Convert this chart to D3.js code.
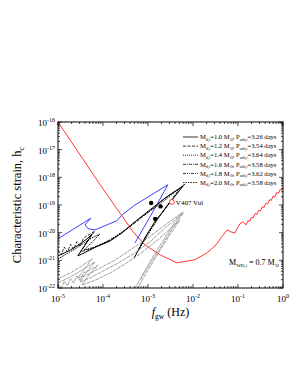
<!DOCTYPE html>
<html lang="en">
<head>
<meta charset="UTF-8">
<script src="https://cdnjs.cloudflare.com/ajax/libs/d3/7.8.5/d3.min.js"></script>
<title>hc vs fgw</title>
<style>
  body{margin:0;background:#fff;}
  text{font-family:"Liberation Serif","Times New Roman",serif;fill:#000;}
</style>
</head>
<body>
<svg id="svg"></svg>
<script>
const width=298, height=385;
const margin={top:122, right:15, bottom:97, left:58};

// tick exponents
const xExps=[-5,-4,-3,-2,-1,0];
const yExps=[-16,-17,-18,-19,-20,-21,-22];

// all curves as [log10 f(Hz), log10 hc]
const lisa=[[-5,-16],[-4,-18.42],[-3.33,-19.97],[-3.07,-20.44],
  [-2.73,-20.8],[-2.36,-21.09],[-1.96,-20.98],[-1.69,-20.73],[-1.51,-20.48],[-1.36,-20.15],
  [-1.24,-19.9],[-1.16,-19.97],[-1.07,-20.01],[-0.96,-19.68],[-0.89,-19.61],[-0.82,-19.72],
  [-0.78,-19.57],[-0.74,-19.59],[-0.70,-19.44],[-0.66,-19.47],[-0.62,-19.31],[-0.58,-19.34],
  [-0.54,-19.19],[-0.50,-19.21],[-0.46,-19.06],[-0.42,-19.09],[-0.38,-18.93],[-0.34,-18.96],
  [-0.30,-18.81],[-0.26,-18.83],[-0.22,-18.68],[-0.18,-18.71],[-0.14,-18.55],[-0.10,-18.58],
  [-0.06,-18.43],[-0.03,-18.47],[0,-18.36]];
const blueTrack=[[-5,-20.22],[-4.27,-19.48],[-4.4,-19.72],[-4.33,-19.86],[-4.18,-19.9],
  [-3.96,-19.75],[-3.69,-19.57],[-3.58,-19.36],[-3.29,-19.0],[-2.96,-18.67],[-2.56,-18.27],
  [-2.84,-19.1],[-3.29,-20.37]];

const trackM10=[[-5,-20.84],[-4.73,-20.63],[-4.51,-20.41],[-4.33,-20.19],[-4.24,-20.05],[-4.38,-20.41],
  [-4.56,-20.84],[-4.42,-20.73],[-4.16,-20.52],[-3.84,-20.30],[-3.58,-20.01],[-3.29,-19.61],
  [-2.96,-19.18],[-2.62,-18.75],[-2.22,-18.31],[-2.47,-18.82],[-2.69,-19.29],[-2.84,-19.58],
  [-3.07,-20.19],[-3.31,-20.92]];
const trackM12=[[-5,-20.62],[-4.93,-20.80],[-4.86,-20.52],[-4.79,-20.70],[-4.72,-20.42],[-4.65,-20.60],
  [-4.58,-20.32],[-4.51,-20.50],[-4.44,-20.22],[-4.40,-20.16],[-4.18,-19.94],[-4.33,-20.26],[-4.51,-20.70],
  [-4.29,-20.59],[-3.96,-20.37],[-3.62,-20.05],[-3.29,-19.65],[-2.96,-19.22],[-2.56,-18.67],
  [-2.29,-18.39],[-2.56,-19.00],[-2.78,-19.47],[-3.00,-20.01],[-3.24,-20.70]];
const trackM14=[[-5,-21.82],[-4.69,-21.57],[-4.40,-21.28],[-4.18,-21.06],[-4.33,-21.35],[-4.51,-21.78],
  [-4.29,-21.64],[-3.96,-21.35],[-3.62,-21.06],[-3.29,-20.73],[-2.96,-20.34],[-2.62,-19.83],
  [-2.22,-19.29],[-2.51,-19.98],[-2.78,-20.70],[-3.07,-21.42],[-3.29,-22.0]];
const trackM16=[[-5,-21.86],[-4.93,-22.02],[-4.86,-21.76],[-4.79,-21.92],[-4.72,-21.66],[-4.65,-21.82],
  [-4.58,-21.56],[-4.51,-21.72],[-4.44,-21.46],[-4.33,-21.39],[-4.11,-21.17],[-4.29,-21.49],[-4.47,-21.89],
  [-4.22,-21.75],[-3.84,-21.46],[-3.51,-21.13],[-3.18,-20.77],[-2.78,-20.26],[-2.29,-19.54],
  [-2.56,-20.19],[-2.84,-20.92],[-3.13,-21.71],[-3.22,-22.0]];
const trackM18=[[-5,-21.67],[-4.73,-21.46],[-4.47,-21.20],[-4.24,-20.95],[-4.38,-21.24],[-4.56,-21.64],
  [-4.36,-21.53],[-4.07,-21.28],[-3.73,-20.99],[-3.40,-20.63],[-3.00,-20.19],[-2.62,-19.72],
  [-2.22,-19.25],[-2.40,-19.61],[-2.73,-20.45],[-2.96,-21.06],[-3.18,-21.71]];
const trackM20=[[-5,-20.95],[-4.62,-20.59],[-4.29,-20.23],[-4.07,-20.05],[-4.24,-20.34],[-4.42,-20.63],
  [-4.18,-20.52],[-3.84,-20.26],[-3.51,-19.90],[-3.18,-19.47],[-2.73,-18.96],[-2.18,-18.24],
  [-2.40,-18.67],[-2.62,-19.11],[-2.91,-19.83],[-3.18,-20.55]];

const blackDots=[[-2.93,-18.93],[-2.72,-19.05],[-2.84,-19.50]];
const v407Vul=[-2.47,-18.89];

const donorMass=["1.0","1.2","1.4","1.6","1.8","2.0"];
const orbPeriod=["3.26","3.54","3.64","3.58","3.62","3.58"];
const tracks=[trackM10,trackM12,trackM14,trackM16,trackM18,trackM20];
const dashes=["","3,1.5","1,1","3,1,1,1","3,1,1,1,1,1","1.5,1"];
const trackColors=["#000","#000","#888","#888","#888","#000"];

const svg=d3.select("#svg").attr("width",width).attr("height",height);
const x=d3.scaleLog().domain([1e-5,1]).range([margin.left,width-margin.right]);
const y=d3.scaleLog().domain([1e-22,1e-16]).range([height-margin.bottom,margin.top]);
const line=d3.line().x(d=>x(10**d[0])).y(d=>y(10**d[1]));

svg.append("clipPath").attr("id","clip").append("rect")
  .attr("x",margin.left).attr("y",margin.top)
  .attr("width",width-margin.left-margin.right).attr("height",height-margin.top-margin.bottom);
const plot=svg.append("g").attr("clip-path","url(#clip)");

plot.append("path").attr("d",line(lisa)).attr("fill","none").attr("stroke","#ff2020").attr("stroke-width",0.9);
plot.append("path").attr("d",line(blueTrack)).attr("fill","none").attr("stroke","#2a2aff").attr("stroke-width",0.9);
tracks.forEach((t,i)=>{
  plot.append("path").attr("d",line(t)).attr("fill","none")
    .attr("stroke",trackColors[i]).attr("stroke-width",i===0||i===5?1:0.8)
    .attr("stroke-dasharray",i>=2&&i<=4?"4,0.8":dashes[i]).attr("stroke-linejoin","round");
});
plot.selectAll(".dot").data(blackDots).join("circle")
  .attr("cx",d=>x(10**d[0])).attr("cy",d=>y(10**d[1])).attr("r",2.2).attr("fill","#000");
plot.append("circle").attr("cx",x(10**v407Vul[0])).attr("cy",y(10**v407Vul[1]))
  .attr("r",2.4).attr("fill","#fff").attr("stroke","#ff2020").attr("stroke-width",0.9);

// frame and inward ticks
const x0=margin.left, x1=width-margin.right, y0=margin.top, y1=height-margin.bottom;
svg.append("rect").attr("x",x0).attr("y",y0).attr("width",x1-x0).attr("height",y1-y0)
  .attr("fill","none").attr("stroke","#000").attr("stroke-width",1);
const xTicks=x.ticks(), yTicks=y.ticks();
const isMajor=v=>Math.abs(Math.log10(v)-Math.round(Math.log10(v)))<1e-6;
const tk=svg.append("g").attr("stroke","#000").attr("stroke-width",0.7);
xTicks.forEach(v=>{
  const L=isMajor(v)?4:2, px=x(v);
  tk.append("line").attr("x1",px).attr("x2",px).attr("y1",y1).attr("y2",y1-L);
  tk.append("line").attr("x1",px).attr("x2",px).attr("y1",y0).attr("y2",y0+L);
});
yTicks.forEach(v=>{
  const L=isMajor(v)?4:2, py=y(v);
  tk.append("line").attr("x1",x0).attr("x2",x0+L).attr("y1",py).attr("y2",py);
  tk.append("line").attr("x1",x1).attr("x2",x1-L).attr("y1",py).attr("y2",py);
});

// tick labels
xExps.forEach(e=>{
  const t=svg.append("text").attr("x",x(10**e)).attr("y",y1+14).attr("text-anchor","middle").attr("font-size",9);
  t.append("tspan").text("10");
  t.append("tspan").attr("font-size",6).attr("dy",-4).text(e===0?"0":e);
});
yExps.forEach(e=>{
  const t=svg.append("text").attr("x",x0-3).attr("y",y(10**e)+4).attr("text-anchor","end").attr("font-size",9);
  t.append("tspan").text("10");
  t.append("tspan").attr("font-size",6).attr("dy",-4).text(e);
});

// axis titles
const yt=svg.append("text").attr("transform",`translate(21,${(y0+y1)/2}) rotate(-90)`)
  .attr("text-anchor","middle").attr("font-size",12.5);
yt.append("tspan").text("Characteristic strain, h");
yt.append("tspan").attr("font-size",8).attr("dy",3).text("c");
const xt=svg.append("text").attr("x",(x0+x1)/2).attr("y",y1+28).attr("text-anchor","middle").attr("font-size",12);
xt.append("tspan").attr("font-style","italic").text("f");
xt.append("tspan").attr("font-size",7.5).attr("dy",3).text("gw");
xt.append("tspan").attr("dy",-3).text(" (Hz)");

// legend
donorMass.forEach((m,i)=>{
  const ly=137+i*9.1;
  svg.append("line").attr("x1",183).attr("x2",198).attr("y1",ly).attr("y2",ly)
    .attr("stroke","#000").attr("stroke-width",0.8).attr("stroke-dasharray",dashes[i]);
  const t=svg.append("text").attr("x",200).attr("y",ly+2.2).attr("font-size",6.6);
  t.append("tspan").text("M");
  t.append("tspan").attr("font-size",4.2).attr("dy",1.5).text("d,i");
  t.append("tspan").attr("dy",-1.5).text(`=${m} M`);
  t.append("tspan").attr("font-size",4.2).attr("dy",1.5).text("\u2299");
  t.append("tspan").attr("dy",-1.5).text(", P");
  t.append("tspan").attr("font-size",4.2).attr("dy",1.5).text("orb,i");
  t.append("tspan").attr("dy",-1.5).text(`=${orbPeriod[i]} days`);
});

// annotations
svg.append("text").attr("x",x(10**v407Vul[0])+4).attr("y",y(10**v407Vul[1])+3)
  .attr("font-size",7).text("V407 Vul");
const mw=svg.append("text").attr("x",229).attr("y",265).attr("font-size",8);
mw.append("tspan").text("M");
mw.append("tspan").attr("font-size",5).attr("dy",2).text("WD,i");
mw.append("tspan").attr("dy",-2).text(" = 0.7 M");
mw.append("tspan").attr("font-size",5).attr("dy",2).text("\u2299");
</script>
</body>
</html>
